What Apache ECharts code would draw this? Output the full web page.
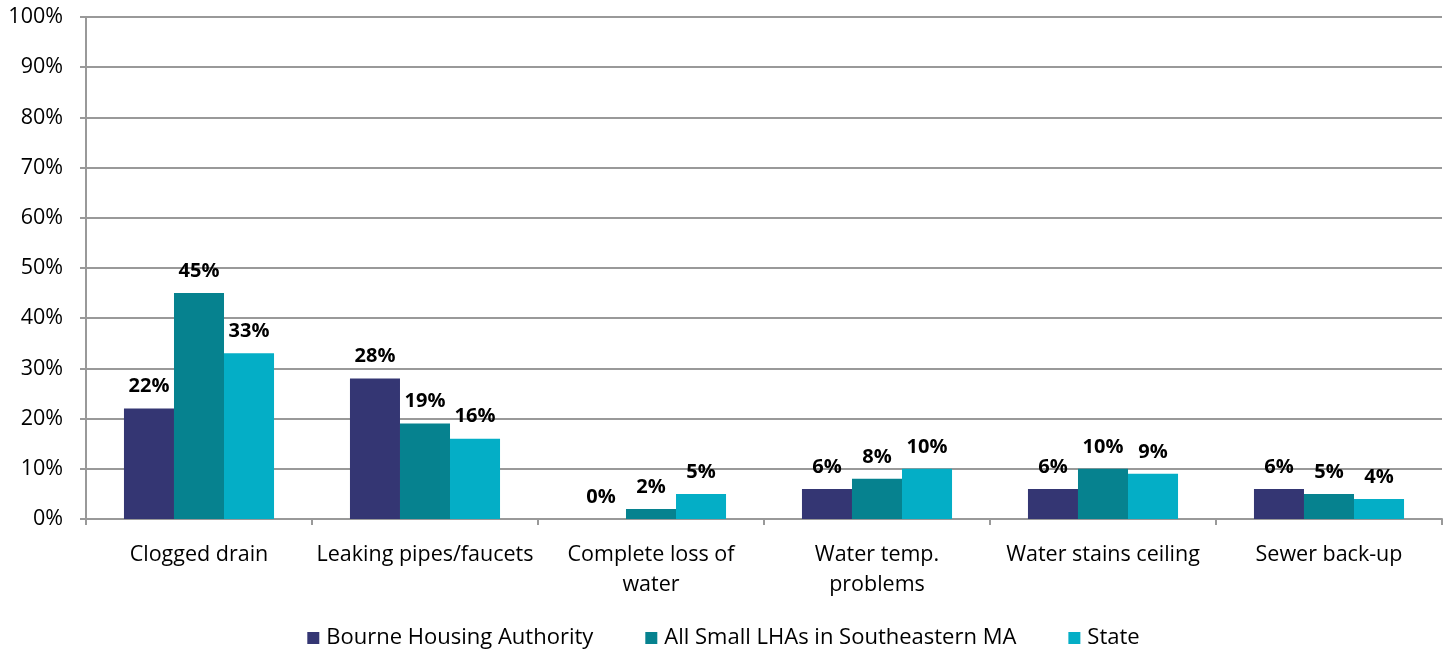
<!DOCTYPE html>
<html><head><meta charset="utf-8">
<script src="https://cdn.jsdelivr.net/npm/echarts@6/dist/echarts.min.js"></script>
<style>html,body{margin:0;padding:0;background:#fff}#c{width:1447px;height:650px}</style>
</head><body><div id="c"></div>
<script>
const categories = ["Clogged drain", "Leaking pipes/faucets", "Complete loss of\nwater", "Water temp.\nproblems", "Water stains ceiling", "Sewer back-up"];
const seriesNames = ["Bourne Housing Authority", "All Small LHAs in Southeastern MA", "State"];
const bourne = [22, 28, 0, 6, 6, 6];
const smallLHAs = [45, 19, 2, 8, 10, 5];
const state = [33, 16, 5, 10, 9, 4];
const colors = ["#343673", "#06828f", "#04aec6"];
const FONT = "Open Sans";
const chart = echarts.init(document.getElementById('c'));
const mk = (name, data, color) => ({
  name, type: 'bar', data, barGap: '0%', barCategoryGap: '33.6%',
  itemStyle: { color },
  label: { show: true, position: 'top', distance: 12, formatter: '{c}%', fontFamily: FONT, fontWeight: 'bold', fontSize: 20, color: '#000' }
});
chart.setOption({
  animation: false,
  textStyle: { fontFamily: FONT },
  grid: { left: 86, right: 5, top: 17, bottom: 131, containLabel: false },
  legend: {
    top: 622, left: 'center', itemWidth: 12, itemHeight: 12, itemGap: 52,
    icon: 'rect', textStyle: { fontFamily: FONT, fontSize: 22, color: '#000', padding: [0, 0, 0, 2] },
    data: seriesNames
  },
  xAxis: {
    type: 'category', data: categories,
    axisLine: { lineStyle: { color: '#999', width: 2 } },
    axisTick: { show: true, length: 6, lineStyle: { color: '#999', width: 2 } },
    axisLabel: { fontFamily: FONT, fontSize: 21.5, color: '#000', margin: 21, lineHeight: 30, interval: 0 }
  },
  yAxis: {
    type: 'value', min: 0, max: 100, interval: 10,
    axisLine: { show: true, lineStyle: { color: '#999', width: 2 } },
    axisTick: { show: true, length: 6, lineStyle: { color: '#999', width: 2 } },
    splitLine: { lineStyle: { color: '#999', width: 2 } },
    axisLabel: { formatter: '{value}%', fontFamily: FONT, fontSize: 21.5, color: '#000', margin: 23 }
  },
  series: [mk(seriesNames[0], bourne, colors[0]), mk(seriesNames[1], smallLHAs, colors[1]), mk(seriesNames[2], state, colors[2])]
});
</script></body></html>
